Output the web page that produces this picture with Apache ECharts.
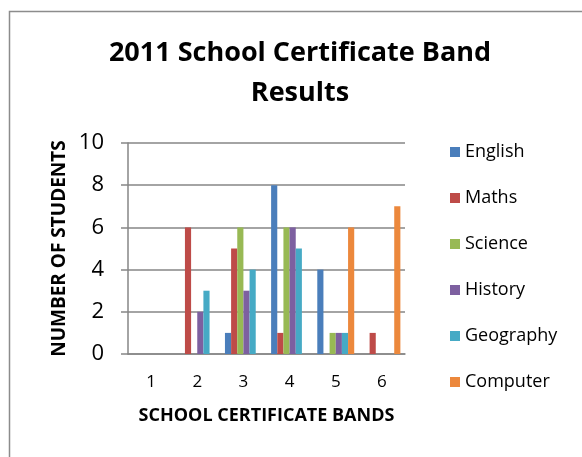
<!DOCTYPE html>
<html>
<head>
<meta charset="utf-8">
<script src="https://cdn.jsdelivr.net/npm/echarts@6/dist/echarts.min.js"></script>
<style>
  html, body { margin: 0; padding: 0; background: #ffffff; }
  #chart { width: 582px; height: 457px; }
</style>
</head>
<body>
<div id="chart"></div>
<script>
// Band categories on the x axis
const bands = ['1', '2', '3', '4', '5', '6'];

// Number of students per band, one array per subject
const english   = [0, 0, 1, 8, 4, 0];
const maths     = [0, 6, 5, 1, 0, 1];
const science   = [0, 0, 6, 6, 1, 0];
const history   = [0, 2, 3, 6, 1, 0];
const geography = [0, 3, 4, 5, 1, 0];
const computer  = [0, 0, 0, 0, 6, 7];

const subjects = ['English', 'Maths', 'Science', 'History', 'Geography', 'Computer'];
const values = [english, maths, science, history, geography, computer];
const colors = ['#4A7EBB', '#BE4B48', '#98B954', '#7D60A0', '#46AAC5', '#EC883C'];

const axisGray = '#868686';
const font = '"Open Sans", "Noto Sans", sans-serif';

const chart = echarts.init(document.getElementById('chart'), null, { renderer: 'canvas' });

chart.setOption({
  animation: false,
  backgroundColor: '#ffffff',
  textStyle: { fontFamily: font },
  graphic: [{
    type: 'rect',
    shape: { x: 9.5, y: 11.5, width: 620, height: 500 },
    style: { fill: 'none', stroke: '#8c8c8c', lineWidth: 1.5 },
    silent: true
  }],
  title: {
    text: '2011 School Certificate Band\nResults',
    left: 295,
    textAlign: 'center',
    top: 28,
    textStyle: {
      fontFamily: font,
      fontWeight: 'bold',
      fontSize: 27,
      lineHeight: 40,
      color: '#000000'
    }
  },
  legend: {
    orient: 'vertical',
    left: 445,
    top: 137,
    itemWidth: 10,
    itemHeight: 10,
    itemGap: 26,
    icon: 'rect',
    data: subjects,
    textStyle: { fontFamily: font, fontSize: 18, lineHeight: 20, color: '#000000', padding: [0, 0, 0, 0] }
  },
  grid: { left: 128, right: 177, top: 143, bottom: 103, containLabel: false },
  xAxis: {
    type: 'category',
    data: bands,
    name: 'SCHOOL CERTIFICATE BANDS',
    nameLocation: 'middle',
    nameGap: 53,
    nameTextStyle: { fontFamily: font, fontWeight: 'bold', fontSize: 18, color: '#000000' },
    axisLine: { show: true, lineStyle: { color: axisGray, width: 1.5 } },
    axisTick: { show: false },
    axisLabel: { fontFamily: font, fontSize: 17, color: '#000000', margin: 20 },
    splitLine: { show: false }
  },
  yAxis: {
    type: 'value',
    min: 0,
    max: 10,
    interval: 2,
    name: 'NUMBER OF STUDENTS',
    nameLocation: 'middle',
    nameGap: 59,
    nameTextStyle: { fontFamily: font, fontWeight: 'bold', fontSize: 19, color: '#000000' },
    axisLine: { show: true, lineStyle: { color: axisGray, width: 1.5 } },
    axisTick: { show: true, length: 7, lineStyle: { color: axisGray, width: 1.5 } },
    axisLabel: { fontFamily: font, fontSize: 22, color: '#000000', margin: 24 },
    splitLine: { show: true, lineStyle: { color: axisGray, width: 1.5 } }
  },
  series: subjects.map((name, i) => ({
    name: name,
    type: 'bar',
    data: values[i],
    barGap: '0%',
    barCategoryGap: '20%',
    itemStyle: { color: colors[i] }
  }))
});
</script>
</body>
</html>
